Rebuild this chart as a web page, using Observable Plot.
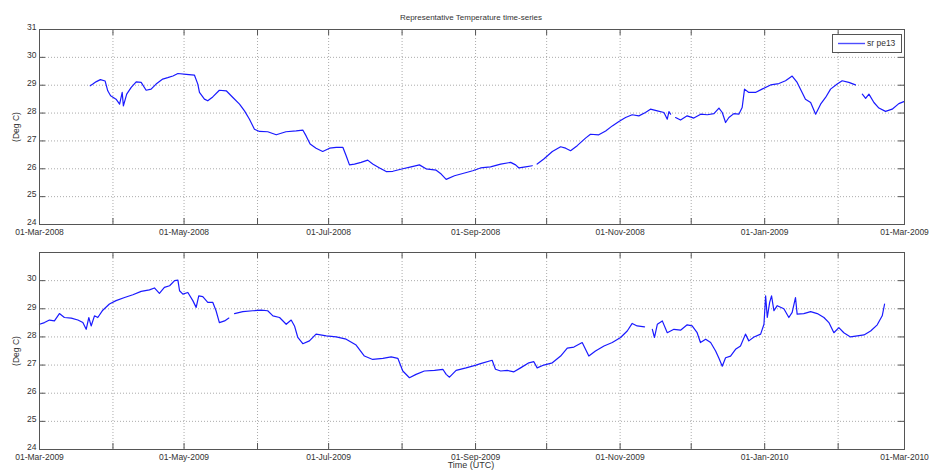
<!DOCTYPE html>
<html>
<head>
<meta charset="utf-8">
<script src="https://cdn.jsdelivr.net/npm/d3@7"></script>
<script src="https://cdn.jsdelivr.net/npm/@observablehq/plot@0.6"></script>
<style>
  html, body { margin: 0; padding: 0; background: #fff; overflow: hidden; }
  #wrap { position: relative; width: 932px; height: 472px; background: #fff;
          font-family: "Liberation Sans", Arial, sans-serif; color: #333; }
  .abs { position: absolute; }
  #title { left: 0; width: 942px; top: 13px; text-align: center; font-size: 8px; line-height: 10px; }
  #xlabel { left: 0; width: 942px; top: 460px; text-align: center; font-size: 9px; line-height: 11px; }
  #legend { left: 832px; top: 34px; width: 68px; height: 17px; border: 1px solid #555; background: #fff; }
  #legend svg { position: absolute; left: 5px; top: 7px; }
  #legend .tx { position: absolute; left: 34px; top: 3px; font-size: 8.5px; line-height: 10px; }
</style>
</head>
<body>
<div id="wrap">
  <div id="top" class="abs" style="left:0;top:0"></div>
  <div id="bottom" class="abs" style="left:0;top:240px"></div>
  <div id="title" class="abs">Representative Temperature time-series</div>
  <div id="legend" class="abs"><svg width="27" height="3"><line x1="0" y1="1.5" x2="27" y2="1.5" stroke="#4d4dff" stroke-width="1.4"/></svg><div class="tx">sr pe13</div></div>
  <div id="xlabel" class="abs">Time (UTC)</div>
</div>
<script>
// ---- data ----
const monthNames = ["Jan","Feb","Mar","Apr","May","Jun","Jul","Aug","Sep","Oct","Nov","Dec"];
const yTicksTop = [24, 25, 26, 27, 28, 29, 30, 31];
const yTicksBottom = [24, 25, 26, 27, 28, 29, 30];
const seriesName = "sr pe13";

// panel 1: days since 01-Mar-2008, temperature (deg C); null = gap
const start2008 = "2008-03-01";
const end2008 = "2009-03-01";
const days2008 = [21.4,22.5,24,25.7,27.7,28.8,30,32.3,33.8,34.9,35.4,36.8,38.7,40.8,42.9,45,47.1,49.2,52,54.1,56.3,58.4,61.9,65.4,66.8,67.5,69.6,71,73.1,75.9,78.8,81.6,84.4,86.5,88.6,90.7,92.8,96.3,99.9,104,108.3,111.1,112.5,114.2,116.7,119.5,122.4,125.2,128,129.4,130.8,132.9,135.7,138.5,140.6,143.5,146.3,149.1,153.3,156.8,160.3,163.1,167.4,169.5,171.6,175.1,178.6,182.8,186.1,190.3,194.6,198.8,200.9,202.3,205.1,207.9,209,210,212.8,216.4,219.9,222,224.1,226.9,230.4,232.5,236,238.9,241.7,244.5,247.3,250.1,252.9,255.7,257.8,260.7,263.5,264.9,265.6,266.3,267,268.4,270.5,273.3,276.1,279,281.8,284.6,286.7,288.1,289.5,290.9,293,295.1,296.5,297.5,299.3,302.1,304.9,308.5,312,314.8,317.6,319.7,321.8,323.2,325.4,327.5,329.6,331.7,333.8,336.6,338.7,341.5,344.3,345.7,347.2,348.6,350,352.1,354.2,357,359.8,362.6,364.7];
const temp2008 = [28.98,29.04,29.13,29.2,29.15,28.8,28.62,28.5,28.32,28.74,28.26,28.68,28.92,29.12,29.1,28.82,28.86,29.04,29.22,29.27,29.33,29.42,29.39,29.36,29.04,28.74,28.5,28.44,28.58,28.82,28.8,28.56,28.32,28.08,27.78,27.42,27.34,27.33,27.22,27.33,27.36,27.39,27.18,26.89,26.74,26.62,26.74,26.77,26.77,26.47,26.14,26.17,26.23,26.31,26.17,26.03,25.9,25.91,26.0,26.07,26.14,26.0,25.95,25.81,25.62,25.75,25.83,25.93,26.03,26.07,26.17,26.23,26.14,26.03,26.07,26.11,null,26.17,26.35,26.62,26.79,26.74,26.65,26.83,27.1,27.24,27.22,27.36,27.54,27.7,27.84,27.94,27.9,28.02,28.14,28.08,28.02,27.78,28.05,27.96,null,27.84,27.75,27.9,27.82,27.96,27.94,27.98,28.18,28.02,27.66,27.84,27.98,27.96,28.2,28.86,28.74,28.74,28.86,29.01,29.06,29.16,29.33,29.1,28.74,28.5,28.38,27.96,28.32,28.56,28.86,29.04,29.16,29.1,29.01,null,28.68,28.53,28.68,28.38,28.18,28.06,28.14,28.34,28.41];

// panel 2: days since 01-Mar-2009
const start2009 = "2009-03-01";
const end2009 = "2010-03-01";
const days2009 = [0,2.1,4.2,6.3,8.4,10.5,13.4,16.2,18.3,19.7,20.8,21.8,23.2,24.6,26.7,29.5,32.3,35.9,39.4,42.9,46.4,48.5,50.6,52.7,54.9,57,58.4,59.1,60.5,62.6,64.7,66.1,67.2,68.9,71,73.1,74.5,75.9,78.1,79.9,81,82.3,85.8,90,93.5,96.3,98.5,101.3,104.1,106.2,107.6,109,111.1,113.9,116.7,121,125.2,129.4,133.6,137.1,140.6,144.9,148.4,151.2,153.3,156.1,158.9,162.4,166.7,170.2,171.6,173,175.8,180,184.2,186.1,191,192.4,194.6,197.4,200.2,203,206.5,208.6,210,212.8,216.4,219.9,222.7,225.5,229,231.8,234.6,238.2,241.7,245.2,248,250.1,252.2,255.3,257,258.6,259.5,260.7,262.8,264.9,267.7,270.5,273.3,275.4,277.5,278.9,281.1,283.2,285.3,286.7,288.1,289.5,291.6,293.7,295.8,297.9,299.3,301.5,304.3,305.7,306.4,307.1,308.1,308.9,309.9,311.3,314.1,316.2,317.6,319,319.7,322.5,325.4,328.2,331,333.1,335.2,337.3,339.4,342.2,345.1,347.9,350.7,353.5,355.6,356.6];
const temp2009 = [28.45,28.51,28.6,28.57,28.83,28.69,28.67,28.6,28.51,28.27,28.69,28.39,28.75,28.69,28.95,29.17,29.29,29.4,29.5,29.62,29.67,29.74,29.55,29.76,29.82,30.0,30.02,29.64,29.52,29.58,29.29,29.05,29.46,29.43,29.23,29.23,28.93,28.51,28.57,28.67,null,28.83,28.9,28.93,28.95,28.93,28.75,28.69,28.45,28.6,28.39,27.98,27.76,27.86,28.1,28.04,28.0,27.92,27.71,27.32,27.2,27.24,27.29,27.24,26.79,26.55,26.67,26.79,26.81,26.85,26.67,26.57,26.81,26.9,27.0,27.05,27.17,26.85,26.79,26.81,26.76,26.9,27.08,27.12,26.9,27.0,27.08,27.32,27.6,27.64,27.8,27.32,27.5,27.68,27.8,27.98,28.21,28.48,28.39,28.36,null,28.27,27.98,28.45,28.57,28.15,28.27,28.24,28.43,28.39,28.15,27.8,27.92,27.8,27.5,27.24,26.96,27.26,27.32,27.56,27.68,28.1,27.86,28.0,28.1,28.45,29.46,28.69,29.23,29.46,28.93,29.11,29.0,28.69,28.87,29.4,28.81,28.83,28.9,28.83,28.69,28.51,28.15,28.33,28.15,28.0,28.04,28.07,28.21,28.43,28.75,29.17];

// ---- drawing ----
const fmt = d => d.getUTCMonth() % 2 === 0
  ? `${String(d.getUTCDate()).padStart(2, "0")}-${monthNames[d.getUTCMonth()]}-${d.getUTCFullYear()}`
  : "";

function rowsOf(start, days, temps) {
  const t0 = new Date(start + "T00:00:00Z").getTime();
  return days.map((d, i) => ({date: new Date(t0 + d * 864e5), temp: temps[i]}));
}

function panel({start, end, rows, yTicks, height, marginTop, marginBottom}) {
  const x0 = new Date(start + "T00:00:00Z"), x1 = new Date(end + "T00:00:00Z");
  const months = d3.utcMonth.range(x0, d3.utcDay.offset(x1, 1));
  const marginLeft = 39, marginRight = 28, width = 932;
  const fh = height - marginTop - marginBottom;
  const fw = width - marginLeft - marginRight;
  const tk = 6;
  return Plot.plot({
    width, height, marginLeft, marginRight, marginTop, marginBottom,
    style: {fontFamily: "'Liberation Sans', Arial, sans-serif", fontSize: "8.5px", color: "#333", background: "transparent", overflow: "visible"},
    x: {type: "utc", domain: [x0, x1]},
    y: {domain: [24, 31]},
    marks: [
      Plot.gridX(months, {stroke: "#888", strokeOpacity: 0.7, strokeDasharray: "1,2"}),
      Plot.gridY(yTicks, {stroke: "#888", strokeOpacity: 0.7, strokeDasharray: "1,2"}),
      Plot.tickX(months, {x: d => d, insetTop: fh - tk, stroke: "#555"}),
      Plot.tickX(months, {x: d => d, insetBottom: fh - tk, stroke: "#555"}),
      Plot.tickY(yTicks, {y: d => d, insetRight: fw - tk, stroke: "#555"}),
      Plot.tickY(yTicks, {y: d => d, insetLeft: fw - tk, stroke: "#555"}),
      Plot.axisX(months, {tickSize: 0, tickPadding: 4, tickFormat: fmt, label: null}),
      Plot.axisY(yTicks, {tickSize: 0, tickPadding: 3, dy: -2, label: "(Deg C)", labelAnchor: "center", labelArrow: false, labelOffset: 27}),
      Plot.line(rows, {x: "date", y: "temp", stroke: "#1a1aff", strokeWidth: 1.2}),
      Plot.frame({stroke: "#555"})
    ]
  });
}

document.getElementById("top").append(panel({
  start: start2008, end: end2008, rows: rowsOf(start2008, days2008, temp2008),
  yTicks: yTicksTop, height: 240, marginTop: 29, marginBottom: 16
}));
document.getElementById("bottom").append(panel({
  start: start2009, end: end2009, rows: rowsOf(start2009, days2009, temp2009),
  yTicks: yTicksBottom, height: 232, marginTop: 12, marginBottom: 23
}));
document.querySelector("#legend .tx").textContent = seriesName;
</script>
</body>
</html>
